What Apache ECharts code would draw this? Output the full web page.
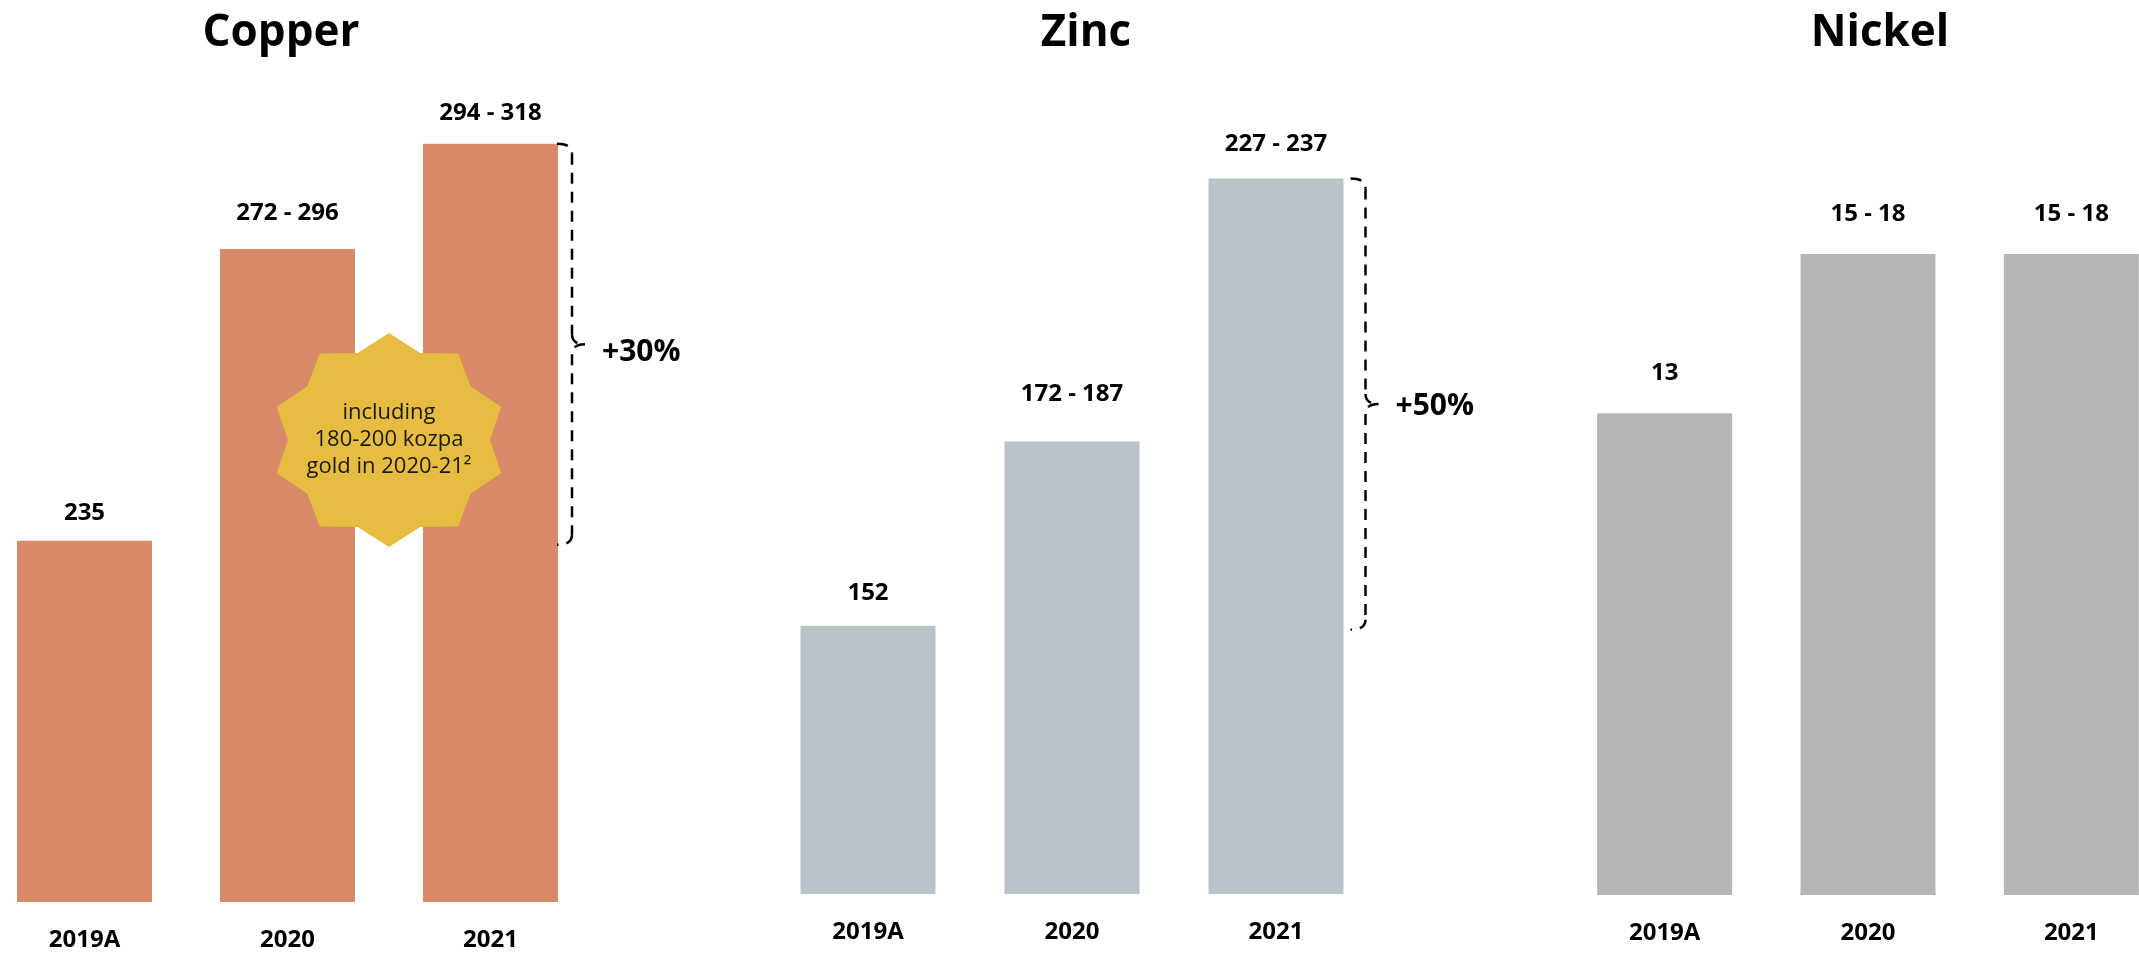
<!DOCTYPE html>
<html>
<head>
<meta charset="utf-8">
<title>Copper, Zinc, Nickel</title>
<script src="https://cdn.jsdelivr.net/npm/echarts@6.0.0/dist/echarts.min.js"></script>
<style>
  html, body { margin: 0; padding: 0; background: #fff; }
  #main { width: 2139px; height: 954px; }
</style>
</head>
<body>
<div id="main"></div>
<script>
var years = ['2019A', '2020', '2021'];
var metals = ['Copper', 'Zinc', 'Nickel'];
var copperLow = [235, 272, 294];
var copperHigh = [235, 296, 318];
var zincLow = [152, 172, 227];
var zincHigh = [152, 187, 237];
var nickelLow = [13, 15, 15];
var nickelHigh = [13, 18, 18];
var growthLabels = ['+30%', '+50%'];
var goldNote = ['including', '180-200 kozpa', 'gold in 2020-21²'];

(function () {
  var myChart = echarts.init(document.getElementById('main'));
  var font = '"Open Sans", "Noto Sans", sans-serif';

  var lows = [copperLow, zincLow, nickelLow];
  var highs = [copperHigh, zincHigh, nickelHigh];
  var colors = ['#d98a68', '#bac3c8', '#b5b5b5'];

  // one panel per metal; the value axis is cropped (not from zero) like the original
  // gaps = distance of each value label above its bar
  var panels = [
    { left: -17, width: 609, bottom: 52, min: 159.5, max: 335.5, titleX: 276, gaps: [16, 24, 19] },
    { left: 766, width: 612, bottom: 60, min: 101, max: 259.5, titleX: 1081, gaps: [20, 35, 22] },
    { left: 1563, width: 610, bottom: 59, min: -2.14, max: 24.1, titleX: 1875, gaps: [28, 28, 28] }
  ];

  function rangeText(i, j) {
    var lo = lows[i][j], hi = highs[i][j];
    return lo === hi ? String(hi) : lo + ' - ' + hi;
  }

  var grid = [], xAxis = [], yAxis = [], series = [], title = [];
  panels.forEach(function (p, i) {
    grid.push({ left: p.left, width: p.width, top: 60, bottom: p.bottom, outerBoundsMode: 'none' });
    xAxis.push({
      type: 'category', gridIndex: i, data: years,
      axisLine: { show: false }, axisTick: { show: false },
      axisLabel: { margin: 26, fontSize: 24, fontWeight: 'bold', fontFamily: font, color: '#000' }
    });
    // startValue: bars grow from the bottom of the cropped axis
    yAxis.push({ type: 'value', gridIndex: i, min: p.min, max: p.max, startValue: p.min, show: false, splitLine: { show: false } });
    series.push({
      type: 'bar', xAxisIndex: i, yAxisIndex: i, barWidth: 135,
      data: highs[i].map(function (v, j) {
        return { value: v, label: { distance: p.gaps[j] } };
      }),
      itemStyle: { color: colors[i] },
      label: {
        show: true, position: 'top',
        fontSize: 24, fontWeight: 'bold', fontFamily: font, color: '#000',
        formatter: function (d) { return rangeText(i, d.dataIndex); }
      }
    });
    title.push({
      text: metals[i], left: p.titleX, top: 6, textAlign: 'center',
      textStyle: { fontSize: 44, fontWeight: 'bold', fontFamily: font, color: '#000' }
    });
  });

  option = {
    animation: false,
    title: title,
    grid: grid,
    xAxis: xAxis,
    yAxis: yAxis,
    series: series
  };
  myChart.setOption(option);

  // annotations: growth brackets and the gold star
  function px(i, j, v) {
    return myChart.convertToPixel({ gridIndex: i }, [years[j], v]);
  }
  var dash = { stroke: '#000', lineWidth: 2.5, lineDash: [11, 8], fill: null };
  var graphic = [];
  var brackets = [{ panel: 0, dx: 14, dy: 8 }, { panel: 1, dx: 22, dy: 2 }];
  brackets.forEach(function (b, k) {
    var top = px(b.panel, 2, highs[b.panel][2]);
    var bot = px(b.panel, 0, highs[b.panel][0]);
    var x = top[0] + 67.5 + b.dx;
    var y0 = top[1], y1 = bot[1] + 4, ym = (y0 + y1) / 2;
    graphic.push(
      { type: 'bezierCurve', z: 10, shape: { x1: x - 15, y1: y0, cpx1: x, cpy1: y0, x2: x, y2: y0 + 10 }, style: dash },
      { type: 'line', z: 10, shape: { x1: x, y1: y0 + 10, x2: x, y2: ym - 10 }, style: dash },
      { type: 'bezierCurve', z: 10, shape: { x1: x, y1: ym - 10, cpx1: x, cpy1: ym, x2: x + 13, y2: ym }, style: dash },
      { type: 'bezierCurve', z: 10, shape: { x1: x + 13, y1: ym, cpx1: x, cpy1: ym, x2: x, y2: ym + 10 }, style: dash },
      { type: 'line', z: 10, shape: { x1: x, y1: ym + 10, x2: x, y2: y1 - 10 }, style: dash },
      { type: 'bezierCurve', z: 10, shape: { x1: x, y1: y1 - 10, cpx1: x, cpy1: y1, x2: x - 15, y2: y1 }, style: dash },
      {
        type: 'text', z: 10, x: x + 30, y: ym + b.dy,
        style: { text: growthLabels[k], fontSize: 30, fontWeight: 'bold', fontFamily: font, fill: '#000', textAlign: 'left', textVerticalAlign: 'middle' }
      }
    );
  });

  var c2 = px(0, 1, 0), c3 = px(0, 2, 0);
  var cx = (c2[0] + c3[0]) / 2, cy = 440;
  var pts = [];
  for (var k = 0; k < 20; k++) {
    var a = k * Math.PI / 10;
    var rx = k % 2 ? 101 : 118, ry = k % 2 ? 91.5 : 107;
    pts.push([cx + rx * Math.sin(a), cy - ry * Math.cos(a)]);
  }
  graphic.push(
    { type: 'polygon', z: 10, shape: { points: pts }, style: { fill: '#e6bc41' } },
    {
      type: 'text', z: 11, x: cx, y: cy,
      style: { text: goldNote.join('\n'), fontSize: 22, lineHeight: 27, fontFamily: font, fill: '#1a1a1a', textAlign: 'center', textVerticalAlign: 'middle' }
    }
  );
  myChart.setOption({ graphic: graphic });
})();
</script>
</body>
</html>
